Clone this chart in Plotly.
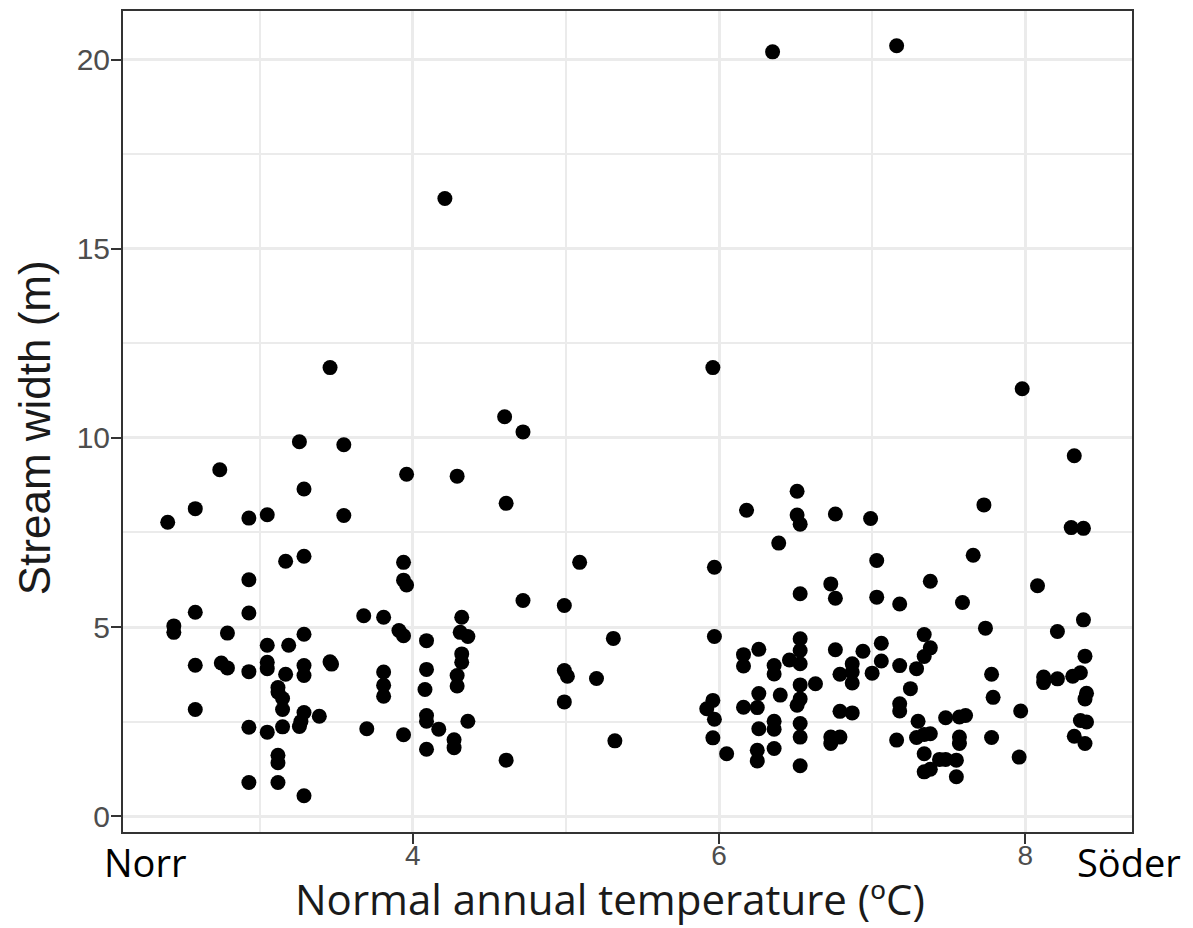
import plotly.graph_objects as go

# Normal annual temperature (°C) and stream width (m) for each site
temperature = [
    3.46, 3.26, 3.55, 2.74, 3.96, 4.29, 3.29, 2.58, 2.40, 2.93, 3.05, 3.55,
    3.17, 3.29, 2.93, 3.94, 3.94, 3.96, 2.58, 2.93, 2.44, 2.44, 3.68, 3.81,
    4.32, 2.79, 3.29, 3.91, 3.94, 4.31, 4.36, 3.05, 3.19, 4.09, 4.32, 4.32,
    2.58, 2.75, 2.79, 2.93, 3.05, 3.05, 3.17, 3.29, 3.29, 3.46, 3.47, 3.81,
    3.81, 3.81, 4.09, 4.08, 4.29, 4.29, 3.12, 3.12, 3.15, 3.15, 2.58, 3.29,
    3.39, 2.93, 3.05, 3.15, 3.26, 3.27, 3.70, 3.94, 4.09, 4.09, 4.17, 4.36,
    4.09, 4.27, 4.27, 3.12, 3.12, 2.93, 3.12, 3.29,
    4.21, 6.35, 7.16,
    5.96, 4.60, 4.72, 4.61, 6.51, 6.18, 6.51, 6.53, 6.76, 6.99, 6.39, 5.09,
    5.97, 7.03, 4.72, 4.99, 6.53, 6.73, 6.76, 7.03, 7.18, 5.97, 5.31, 6.53,
    6.53, 6.26, 6.16, 6.16, 6.36, 6.36, 6.46, 6.53, 6.76, 6.94, 7.06, 7.06,
    7.18, 6.87, 6.87, 6.79, 7.00, 6.87, 4.99, 5.01, 5.20, 4.99, 5.32, 6.53,
    6.63, 6.26, 6.40, 6.53, 6.51, 6.16, 6.25, 5.96, 5.92, 5.97, 5.96, 6.05,
    6.26, 6.36, 6.36, 6.36, 6.25, 6.25, 6.53, 6.53, 6.53, 6.79, 6.87, 6.73,
    6.79, 6.73, 7.18, 7.18, 7.16, 4.61,
    7.98, 8.32, 7.73, 8.30, 8.38, 7.66, 7.38, 8.08, 7.59, 8.38, 7.74, 8.21,
    7.34, 7.38, 7.34, 8.39, 7.29, 7.78, 8.36, 8.31, 8.12, 8.12, 8.21, 7.25,
    8.40, 8.39, 7.79, 7.97, 7.30, 7.48, 7.57, 7.61, 8.36, 8.40, 7.29, 7.38,
    7.34, 7.57, 7.57, 7.78, 8.32, 8.39, 7.34, 7.44, 7.48, 7.55, 7.38, 7.34,
    7.55, 7.96,
]
stream_width = [
    11.86, 9.90, 9.82, 9.16, 9.04, 8.99, 8.65, 8.13, 7.77, 7.88, 7.97, 7.95,
    6.74, 6.87, 6.25, 6.71, 6.24, 6.11, 5.39, 5.37, 5.03, 4.86, 5.30, 5.26,
    5.26, 4.84, 4.81, 4.91, 4.77, 4.86, 4.75, 4.52, 4.52, 4.64, 4.29, 4.07,
    3.99, 4.05, 3.92, 3.82, 4.07, 3.90, 3.75, 3.98, 3.72, 4.08, 4.02, 3.81,
    3.46, 3.17, 3.88, 3.35, 3.72, 3.44, 3.40, 3.28, 3.11, 2.82, 2.82, 2.74,
    2.64, 2.35, 2.22, 2.36, 2.37, 2.50, 2.31, 2.15, 2.66, 2.51, 2.30, 2.51,
    1.77, 2.02, 1.81, 1.61, 1.41, 0.89, 0.89, 0.54,
    16.33, 20.21, 20.37,
    11.86, 10.56, 10.16, 8.27, 8.59, 8.09, 7.96, 7.72, 7.99, 7.87, 7.22, 6.71,
    6.58, 6.76, 5.70, 5.57, 5.88, 6.14, 5.76, 5.79, 5.61, 4.75, 4.70, 4.69,
    4.38, 4.41, 4.27, 3.97, 3.98, 3.76, 4.13, 4.03, 4.40, 4.36, 4.57, 4.10,
    3.98, 4.03, 3.81, 3.75, 3.78, 3.52, 3.85, 3.70, 3.64, 3.02, 1.99, 3.47,
    3.50, 3.24, 3.20, 3.10, 2.93, 2.88, 2.87, 3.06, 2.84, 2.56, 2.07, 1.65,
    2.31, 2.51, 2.30, 1.79, 1.74, 1.46, 2.45, 2.09, 1.33, 2.77, 2.73, 2.09,
    2.09, 1.92, 2.97, 2.78, 2.01, 1.48,
    11.30, 9.53, 8.23, 7.63, 7.61, 6.90, 6.21, 6.09, 5.65, 5.19, 4.97, 4.88,
    4.80, 4.45, 4.22, 4.23, 3.90, 3.75, 3.79, 3.70, 3.68, 3.53, 3.63, 3.37,
    3.25, 3.10, 3.14, 2.78, 2.51, 2.60, 2.62, 2.66, 2.53, 2.49, 2.08, 2.18,
    2.16, 2.09, 1.92, 2.08, 2.11, 1.92, 1.65, 1.50, 1.50, 1.48, 1.24, 1.17,
    1.04, 1.56,
]

x_ticks = [4, 6, 8]
y_ticks = [0, 5, 10, 15, 20]
x_title = "Normal annual temperature (ºC)"
y_title = "Stream width (m)"
left_label = "Norr"
right_label = "Söder"

GRID = "#EBEBEB"
DARK = "#333333"
TICKTXT = "#4D4D4D"

fig = go.Figure(
    go.Scatter(
        x=temperature,
        y=stream_width,
        mode="markers",
        marker=dict(color="black", size=15, line=dict(width=0)),
        hoverinfo="x+y",
    )
)

# The page body has an 8px margin, so the figure is 8px smaller than the window
fig.update_layout(
    width=1185,
    height=920,
    margin=dict(l=115, r=61, t=1, b=96),
    paper_bgcolor="white",
    plot_bgcolor="white",
    showlegend=False,
    font=dict(family="Liberation Sans, Arial, sans-serif", color=TICKTXT),
)

fig.update_xaxes(
    range=[2.108, 8.697],
    tickvals=x_ticks,
    ticktext=[str(v) for v in x_ticks],
    ticks="outside",
    ticklen=10,
    tickwidth=2,
    tickcolor=DARK,
    tickfont=dict(size=28, color=TICKTXT),
    ticklabelstandoff=-13,
    showgrid=True,
    gridcolor=GRID,
    gridwidth=2.5,
    minor=dict(dtick=1, tick0=0, showgrid=True, gridcolor=GRID, gridwidth=1.5, ticks=""),
    showline=True,
    linecolor=DARK,
    linewidth=2,
    mirror=True,
    zeroline=False,
)
fig.update_yaxes(
    range=[-0.42, 21.29],
    tickvals=y_ticks,
    ticktext=[str(v) for v in y_ticks],
    ticks="outside",
    ticklen=10,
    tickwidth=2,
    tickcolor=DARK,
    tickfont=dict(size=30, color=TICKTXT),
    ticklabelstandoff=-5,
    showgrid=True,
    gridcolor=GRID,
    gridwidth=2.5,
    minor=dict(dtick=2.5, tick0=0, showgrid=True, gridcolor=GRID, gridwidth=1.5, ticks=""),
    showline=True,
    linecolor=DARK,
    linewidth=2,
    mirror=True,
    zeroline=False,
)

# Axis titles and direction labels (paper coords relative to the plot area)
def px_to_paper_x(px):
    return (px - 122.7) / 1009.0

def px_to_paper_y(py):
    return (832.0 - py) / 823.0

fig.add_annotation(
    text=y_title, xref="paper", yref="paper",
    x=px_to_paper_x(35), y=px_to_paper_y(427), xanchor="center", yanchor="middle",
    textangle=-90, showarrow=False,
    font=dict(family="Liberation Sans, Arial, sans-serif", size=44, color="#1A1A1A"),
)
fig.add_annotation(
    text=x_title, xref="paper", yref="paper",
    x=px_to_paper_x(610), y=px_to_paper_y(899), xanchor="center", yanchor="middle",
    showarrow=False,
    font=dict(family="Open Sans, sans-serif", size=42, color="#1A1A1A"),
)
fig.add_annotation(
    text=left_label, xref="paper", yref="paper",
    x=px_to_paper_x(145), y=px_to_paper_y(862), xanchor="center", yanchor="middle",
    showarrow=False,
    font=dict(family="Open Sans, sans-serif", size=38, color="black"),
)
fig.add_annotation(
    text=right_label, xref="paper", yref="paper",
    x=px_to_paper_x(1129), y=px_to_paper_y(862), xanchor="center", yanchor="middle",
    showarrow=False,
    font=dict(family="Open Sans, sans-serif", size=38, color="black"),
)

fig.write_html("out.html")
